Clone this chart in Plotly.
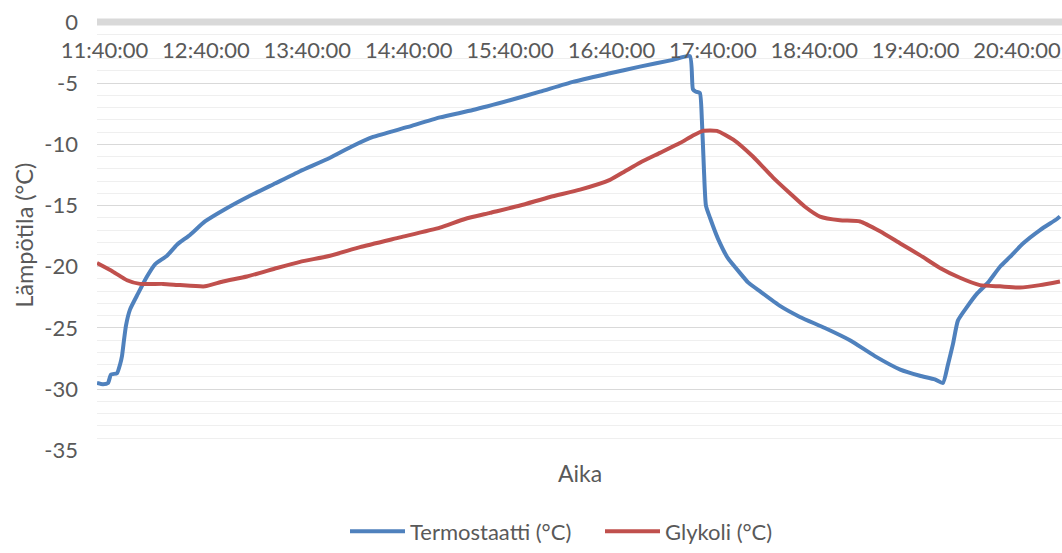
import plotly.graph_objects as go

DAY = "2020-01-01 "

termo_times = ["11:35:34", "11:39:06", "11:42:04", "11:43:51", "11:47:24", "11:49:10", "11:50:21",
               "11:51:32", "11:52:43", "11:55:05", "11:59:49", "12:05:09", "12:09:53", "12:16:59",
               "12:22:54", "12:30:35", "12:39:28", "12:51:18", "13:06:06", "13:20:54", "13:35:42",
               "13:53:30", "14:06:00", "14:18:54", "14:39:00", "14:58:30", "15:18:00", "15:39:54",
               "15:57:42", "16:17:12", "16:39:06", "16:56:48", "17:16:24", "17:26:24", "17:28:12",
               "17:30:00", "17:32:18", "17:33:30", "17:34:42", "17:35:54", "17:38:18", "17:43:00",
               "17:48:54", "17:56:00", "18:01:00", "18:07:48", "18:19:42", "18:31:30", "18:46:18",
               "19:01:06", "19:15:54", "19:30:54", "19:42:30", "19:51:24", "19:56:06", "19:59:06",
               "20:02:06", "20:05:00", "20:10:18", "20:16:18", "20:22:48", "20:29:54", "20:35:48",
               "20:43:30", "20:53:36", "21:03:36", "21:05:24"]
termo_values = [-29.5, -29.6, -29.5, -28.8, -28.7, -28.0, -27.3,
                -26.0, -24.8, -23.5, -22.2, -20.8, -19.8, -19.1,
                -18.2, -17.4, -16.3, -15.3, -14.2, -13.2, -12.2,
                -11.1, -10.2, -9.4, -8.6, -7.8, -7.2, -6.4,
                -5.7, -4.9, -4.2, -3.65, -3.1, -2.8, -5.5,
                -5.7, -5.8, -8.0, -12.0, -15.0, -16.0, -17.7,
                -19.3, -20.5, -21.3, -22.0, -23.2, -24.1, -25.0,
                -26.0, -27.3, -28.4, -28.9, -29.2, -29.5, -28.0,
                -26.3, -24.4, -23.3, -22.2, -21.3, -20.0, -19.2,
                -18.1, -17.0, -16.1, -15.9]

glyk_times = ["11:35:34", "11:45:02", "11:53:19", "12:01:00", "12:14:37", "12:24:40", "12:39:28",
              "12:50:07", "13:04:18", "13:22:04", "13:35:42", "13:53:30", "14:11:12", "14:34:54",
              "14:58:30", "15:13:18", "15:28:06", "15:45:54", "16:03:36", "16:21:24", "16:39:06",
              "16:48:00", "16:56:48", "17:08:42", "17:20:30", "17:28:00", "17:34:06", "17:42:24",
              "17:51:54", "18:03:42", "18:15:30", "18:25:36", "18:34:30", "18:43:24", "18:55:12",
              "19:07:06", "19:18:54", "19:30:54", "19:42:30", "19:54:24", "20:06:12", "20:18:00",
              "20:29:54", "20:41:42", "20:53:36", "21:05:24"]
glyk_values = [-19.7, -20.4, -21.1, -21.4, -21.4, -21.5, -21.6,
               -21.2, -20.8, -20.1, -19.6, -19.1, -18.4, -17.6,
               -16.8, -16.1, -15.6, -15.0, -14.3, -13.7, -12.9,
               -12.2, -11.5, -10.7, -9.9, -9.3, -8.9, -8.9,
               -9.6, -11.0, -12.7, -14.0, -15.1, -15.9, -16.2,
               -16.3, -17.1, -18.1, -19.05, -20.1, -20.9, -21.5,
               -21.6, -21.7, -21.5, -21.2]

tick_times = ["11:40:00", "12:40:00", "13:40:00", "14:40:00", "15:40:00",
              "16:40:00", "17:40:00", "18:40:00", "19:40:00", "20:40:00"]
y_ticks = [0, -5, -10, -15, -20, -25, -30, -35]

FONT = "Lato"
TXT = "#595959"

fig = go.Figure()
fig.add_trace(go.Scatter(x=[DAY + t for t in termo_times], y=termo_values, mode="lines",
                         name="Termostaatti (°C)",
                         line=dict(color="#4F81BD", width=4, shape="spline", smoothing=0.5)))
fig.add_trace(go.Scatter(x=[DAY + t for t in glyk_times], y=glyk_values, mode="lines",
                         name="Glykoli (°C)",
                         line=dict(color="#C0504D", width=4, shape="spline", smoothing=0.5)))

minor_vals = [v for v in range(-34, 0) if v % 5 != 0 and v != -2]

fig.update_layout(
    width=1062, height=553,
    margin=dict(l=97, r=0, t=17, b=102, autoexpand=False),
    paper_bgcolor="white", plot_bgcolor="white",
    font=dict(family=FONT, color=TXT, size=22),
    showlegend=True,
    legend=dict(orientation="h", x=(345 - 97) / 965, xanchor="left",
                y=-(552 - 450.6) / 434, yanchor="bottom",
                font=dict(size=22, color=TXT), itemwidth=55, entrywidth=185,
                entrywidthmode="pixels", bgcolor="rgba(0,0,0,0)"),
    xaxis=dict(type="date", range=[DAY + "11:35:34", DAY + "21:06:36"],
               tickvals=[DAY + t for t in tick_times], ticktext=tick_times,
               showgrid=False, zeroline=False, showline=False, ticks="",
               anchor="free", position=0.9885, side="bottom",
               ticklabelstandoff=13, tickfont=dict(size=22, color=TXT)),
    yaxis=dict(range=[-35.05, 0.4], tickvals=y_ticks, ticktext=[str(v) for v in y_ticks],
               showgrid=True, gridcolor="#d9d9d9", gridwidth=1, zeroline=False,
               showline=False, ticks="", ticklabelstandoff=18,
               tickfont=dict(size=22, color=TXT),
               minor=dict(tickvals=minor_vals, showgrid=True, gridcolor="#efefef", gridwidth=1)),
)

fig.add_shape(type="line", xref="paper", yref="y", x0=0, x1=1, y0=0, y1=0,
              line=dict(color="#d9d9d9", width=7), layer="below")

fig.add_annotation(text="Lämpötila (°C)", textangle=-90, xref="paper", yref="paper",
                   x=-(97 - 24) / 965, y=0.496, xanchor="center", yanchor="middle",
                   showarrow=False, font=dict(size=23.5, color=TXT))
fig.add_annotation(text="Aika", xref="paper", yref="paper",
                   x=0.5, y=-(473 - 450.6) / 434, xanchor="center", yanchor="middle",
                   showarrow=False, font=dict(size=23, color=TXT))

fig.write_html("out.html")
